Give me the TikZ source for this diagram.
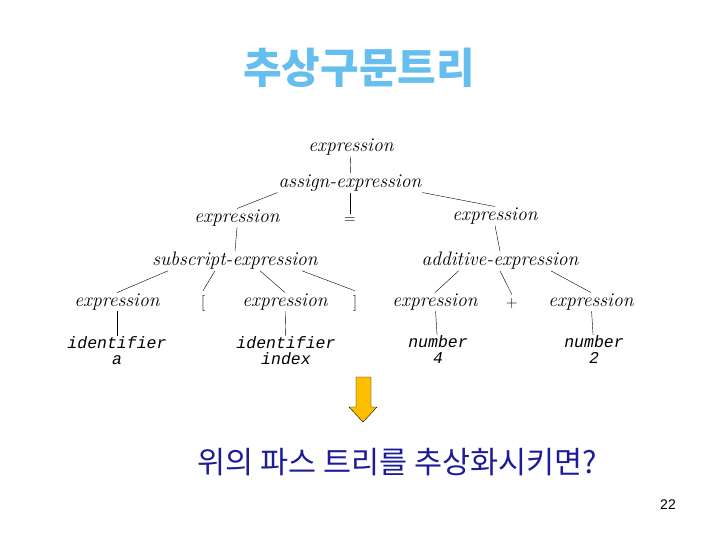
\documentclass[tikz,border=0pt]{standalone}
\usepackage{fontspec}
\usetikzlibrary{calc}
\newfontfamily\krfont{Noto Sans CJK KR}
\newfontfamily\codefont{Liberation Mono}
\newfontfamily\pagefont{Liberation Sans}
\definecolor{titleblue}{RGB}{102,190,238}
\definecolor{askblue}{RGB}{28,28,150}
\definecolor{arrowgold}{RGB}{255,190,0}
\tikzset{
    gram/.style={font=\fontsize{19.5}{19.5}\selectfont\itshape, inner sep=1pt},
    tok/.style={font=\fontsize{16}{16}\selectfont, inner sep=4pt},
    leaf/.style={font=\codefont\fontsize{16.5}{16}\selectfont\itshape, align=center, inner sep=1pt},
}
\begin{document}
\begin{tikzpicture}[x=1pt, y=-1pt]
    \useasboundingbox (0, 0) rectangle (720, 540);
    \node[font=\krfont\bfseries\fontsize{42}{42}\selectfont, text=titleblue] (title) at (359, 68) {추상구문트리};
    \node[gram] (root) at (351, 147) {expression};
    \node[gram] (ae) at (350, 183) {assign-expression};
    \node[gram] (eL) at (237, 218) {expression};
    \node[tok] (eq) at (350, 221) {=};
    \node[gram] (eR) at (495, 216) {expression};
    \node[gram] (se) at (235, 261) {subscript-expression};
    \node[gram] (ad) at (500, 261) {additive-expression};
    \node[gram] (e1) at (117, 302) {expression};
    \node[tok] (lb) at (203, 303) {[};
    \node[gram] (e2) at (285, 302) {expression};
    \node[tok] (rb) at (355, 303) {]};
    \node[gram] (e3) at (435, 302) {expression};
    \node[tok] (plus) at (512, 304) {+};
    \node[gram] (e4) at (591, 302) {expression};
    \node[leaf] (id1) at (117, 351) {identifier\\a};
    \node[leaf] (id2) at (286, 351) {identifier\\index};
    \node[leaf] (n1) at (438, 350) {number\\4};
    \node[leaf] (n2) at (594, 350) {number\\2};
    \draw (root) -- (ae);
    \draw (ae.south west) -- (eL.north);
    \draw (ae) -- (eq);
    \draw (ae.south east) -- (eR.north);
    \draw (eL.south) -- (se.north);
    \draw (eR.south) -- (ad.north);
    \draw ($(se.south west)!.1!(se.south east)$) -- (e1.north);
    \draw ($(se.south west)!.38!(se.south east)$) -- (lb.north);
    \draw ($(se.south west)!.65!(se.south east)$) -- (e2.north);
    \draw ($(se.south west)!.9!(se.south east)$) -- (rb.north);
    \draw ($(ad.south west)!.24!(ad.south east)$) -- (e3.north);
    \draw ($(ad.south west)!.5!(ad.south east)$) -- (plus.north);
    \draw ($(ad.south west)!.82!(ad.south east)$) -- (e4.north);
    \draw (e1) -- (id1);
    \draw (e2) -- (id2);
    \draw (e3) -- (n1);
    \draw (e4) -- (n2);
    \draw[fill=arrowgold, line join=miter] (356, 377) -- (371, 377) -- (371, 407) -- (377, 407) -- (363, 422) -- (349, 407) -- (356, 407) -- cycle;
    \node[font=\krfont\fontsize{30.5}{30.5}\selectfont, text=askblue] (ask) at (397, 462) {위의 파스 트리를 추상화시키면?};
    \node[font=\pagefont\fontsize{14}{14}\selectfont] (page) at (668, 505) {22};
\end{tikzpicture}
\end{document}
